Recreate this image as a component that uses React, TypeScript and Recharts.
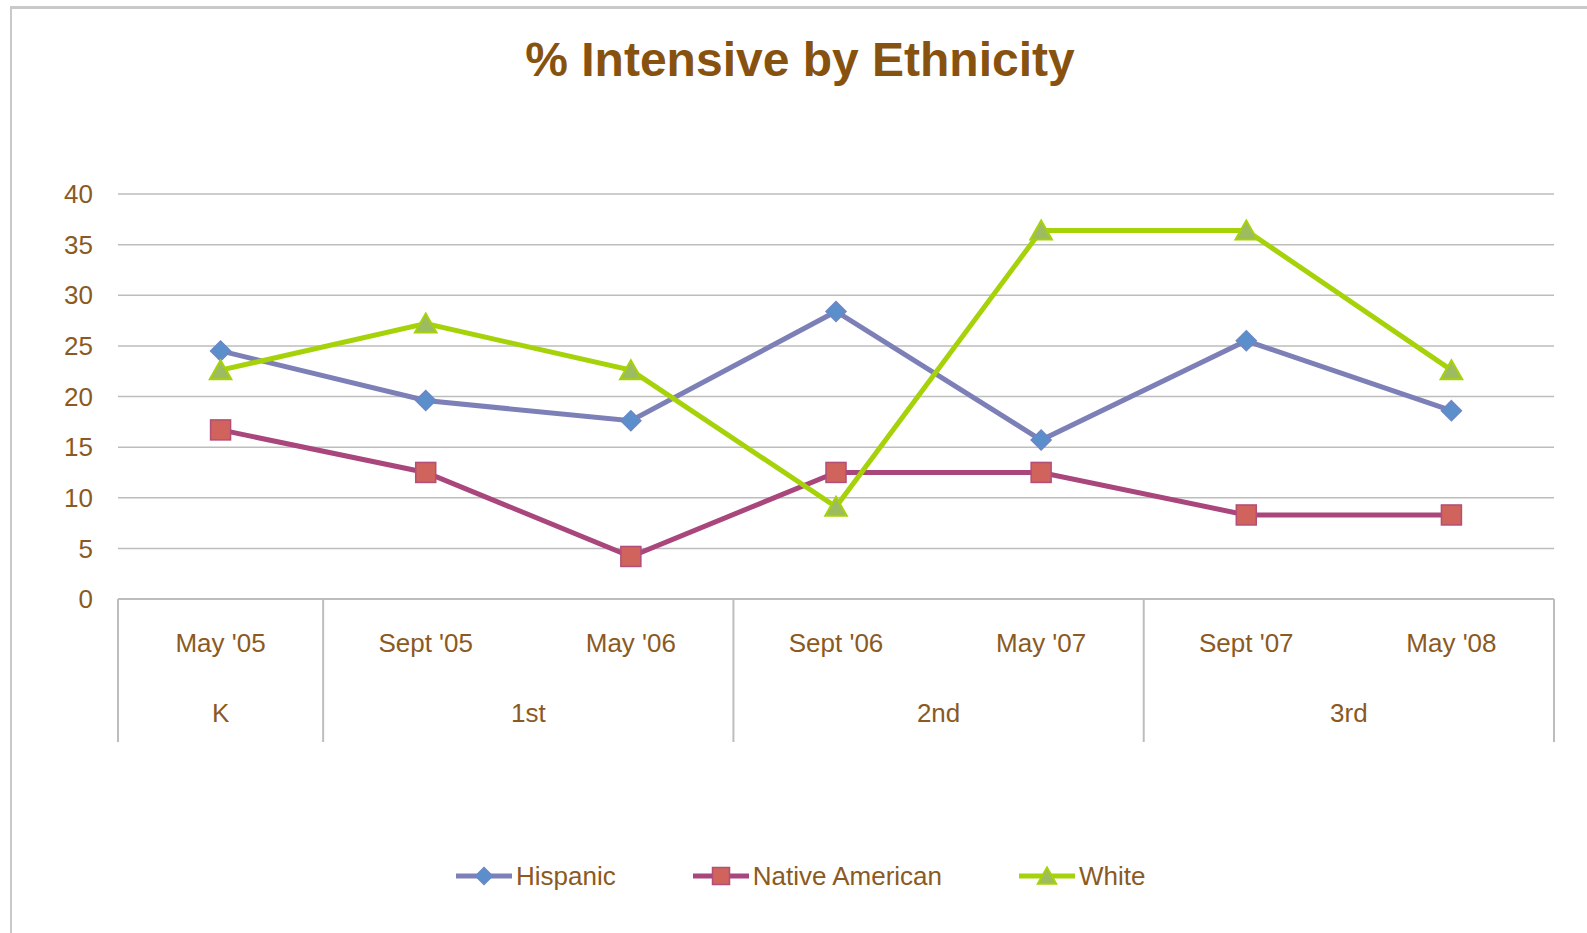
import React from 'react';
import {
  LineChart,
  Line,
  XAxis,
  YAxis,
  CartesianGrid,
  Legend,
} from 'recharts';

// data
const dates = ["May '05", "Sept '05", "May '06", "Sept '06", "May '07", "Sept '07", "May '08"];
const grades = ['K', '1st', '1st', '2nd', '2nd', '3rd', '3rd'];
const hispanic = [24.5, 19.6, 17.6, 28.4, 15.7, 25.5, 18.6];
const nativeAmerican = [16.7, 12.5, 4.2, 12.5, 12.5, 8.3, 8.3];
const white = [22.6, 27.2, 22.6, 9.1, 36.4, 36.4, 22.6];
const yTicks = [0, 5, 10, 15, 20, 25, 30, 35, 40];

const chartData = dates.map((date, i) => ({
  date,
  grade: grades[i],
  hispanic: hispanic[i],
  nativeAmerican: nativeAmerican[i],
  white: white[i],
}));

const FONT = '"Liberation Sans", Arial, sans-serif';
const TEXT = '#8B5A22';
const GRID = '#BDBDBD';

const W = 1587;
const H = 933;
const PLOT_LEFT = 118;
const PLOT_RIGHT = 1554;
const PLOT_TOP = 194;
const PLOT_BOTTOM = 599;
const PLOT_W = PLOT_RIGHT - PLOT_LEFT;
const BAND = PLOT_W / dates.length;

type Shape = 'diamond' | 'square' | 'triangle';

const Marker = ({ shape, cx, cy, fill, stroke, size = 1 }: { shape: Shape; cx: number; cy: number; fill: string; stroke: string; size?: number }) => {
  if (shape === 'diamond') {
    const r = 10 * size;
    return (
      <polygon
        points={`${cx},${cy - r} ${cx + r},${cy} ${cx},${cy + r} ${cx - r},${cy}`}
        fill={fill}
        stroke={stroke}
        strokeWidth={1.5}
      />
    );
  }
  if (shape === 'square') {
    const r = 10 * size;
    return <rect x={cx - r} y={cy - r} width={r * 2} height={r * 2} fill={fill} stroke={stroke} strokeWidth={1.5} />;
  }
  const h = 10 * size;
  return (
    <polygon
      points={`${cx},${cy - h} ${cx + h * 1.08},${cy + h * 0.9} ${cx - h * 1.08},${cy + h * 0.9}`}
      fill={fill}
      stroke={stroke}
      strokeWidth={2}
    />
  );
};

const series: { key: string; name: string; line: string; fill: string; stroke: string; shape: Shape }[] = [
  { key: 'hispanic', name: 'Hispanic', line: '#7C80B7', fill: '#5B8FCC', stroke: '#6D86C4', shape: 'diamond' },
  { key: 'nativeAmerican', name: 'Native American', line: '#A9467C', fill: '#D0645C', stroke: '#B24E78', shape: 'square' },
  { key: 'white', name: 'White', line: '#A6D20A', fill: '#9DBB61', stroke: '#A6D20A', shape: 'triangle' },
];

const makeDot = (s: (typeof series)[number]) => (props: any) => {
  const { cx, cy, index } = props;
  if (cx == null || cy == null) return <g key={`${s.key}-dot-${index}`} />;
  return (
    <g key={`${s.key}-dot-${index}`}>
      <Marker shape={s.shape} cx={cx} cy={cy} fill={s.fill} stroke={s.stroke} />
    </g>
  );
};

// two-level category tick: date on the first row, grade below, with separators
const CategoryTick = (props: any) => {
  const { x, y, payload, index } = props;
  const grade = grades[index];
  const isFirst = index === 0 || grades[index - 1] !== grade;
  const isLast = index === dates.length - 1;
  const count = grades.filter((g) => g === grade).length;
  return (
    <g>
      <text x={x} y={y + 44} dy="0.35em" textAnchor="middle" fill={TEXT} fontSize={26} fontFamily={FONT}>
        {payload.value}
      </text>
      {isFirst && (
        <>
          <line x1={x - BAND / 2} y1={y} x2={x - BAND / 2} y2={y + 143} stroke={GRID} strokeWidth={2} />
          <text
            x={x + ((count - 1) * BAND) / 2}
            y={y + 114}
            dy="0.35em"
            textAnchor="middle"
            fill={TEXT}
            fontSize={26}
            fontFamily={FONT}
          >
            {grade}
          </text>
        </>
      )}
      {isLast && <line x1={x + BAND / 2} y1={y} x2={x + BAND / 2} y2={y + 143} stroke={GRID} strokeWidth={2} />}
    </g>
  );
};

const LegendContent = () => (
  <div style={{ display: 'flex', alignItems: 'center', height: 30, paddingLeft: 456, gap: 77, fontFamily: FONT }}>
    {series.map((s) => (
      <div key={s.key} style={{ display: 'flex', alignItems: 'center' }}>
        <svg width={56} height={24} style={{ display: 'block' }}>
          <line x1={0} y1={12} x2={56} y2={12} stroke={s.line} strokeWidth={5} strokeLinecap="round" />
          <Marker shape={s.shape} cx={28} cy={12} fill={s.fill} stroke={s.stroke} size={0.85} />
        </svg>
        <span style={{ marginLeft: 4, fontSize: 26, color: TEXT, lineHeight: '30px' }}>{s.name}</span>
      </div>
    ))}
  </div>
);

export default function App() {
  return (
    <div style={{ position: 'absolute', left: 0, top: 0, width: W, height: H, overflow: 'hidden', background: '#fff' }}>
      <div
        style={{
          position: 'absolute',
          left: 10,
          top: 6,
          width: W,
          height: H,
          borderTop: '3px solid #C9C9C9',
          borderLeft: '2px solid #C9C9C9',
        }}
      />
      <div
        style={{
          position: 'absolute',
          left: 300,
          top: 36,
          width: 1000,
          textAlign: 'center',
          fontFamily: FONT,
          fontWeight: 'bold',
          fontSize: 48,
          lineHeight: '48px',
          color: '#87520F',
        }}
      >
        % Intensive by Ethnicity
      </div>
      <div style={{ position: 'absolute', left: 0, top: 0 }}>
        <LineChart
          width={W}
          height={H}
          data={chartData}
          margin={{ top: PLOT_TOP, right: W - PLOT_RIGHT, left: 0, bottom: H - PLOT_BOTTOM - 150 }}
        >
          <CartesianGrid vertical={false} stroke={GRID} strokeWidth={1.5} />
          <XAxis
            dataKey="date"
            interval={0}
            height={150}
            padding={{ left: BAND / 2, right: BAND / 2 }}
            axisLine={{ stroke: GRID, strokeWidth: 2 }}
            tickLine={false}
            tickSize={0}
            tickMargin={0}
            tick={<CategoryTick />}
          />
          <YAxis
            width={PLOT_LEFT}
            domain={[0, 40]}
            ticks={yTicks}
            axisLine={false}
            tickLine={false}
            tickSize={0}
            tickMargin={25}
            tick={{ fill: TEXT, fontSize: 26, fontFamily: FONT }}
          />
          <Legend
            verticalAlign="middle"
            align="center"
            layout="horizontal"
            wrapperStyle={{ top: 861, left: 0, width: W }}
            content={<LegendContent />}
          />
          {series.map((s) => (
            <Line
              key={s.key}
              type="linear"
              dataKey={s.key}
              name={s.name}
              stroke={s.line}
              strokeWidth={5}
              dot={makeDot(s)}
              activeDot={false}
              isAnimationActive={false}
            />
          ))}
        </LineChart>
      </div>
    </div>
  );
}
